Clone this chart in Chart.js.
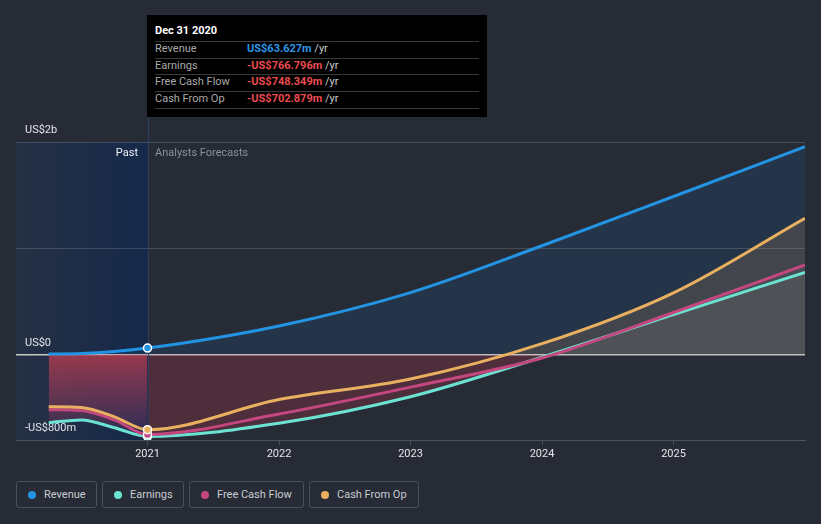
<!DOCTYPE html>
<html><head><meta charset="utf-8">
<script src="https://cdn.jsdelivr.net/npm/chart.js@4.4.0/dist/chart.umd.min.js"></script>
<style>
html,body{margin:0;padding:0;background:#262b36;width:821px;height:524px;overflow:hidden;font-family:Roboto,"Noto Sans",sans-serif;}
#wrap{position:absolute;left:0;top:0;width:821px;height:470px;}
#tip{position:absolute;left:147px;top:15px;width:340px;height:102px;background:#000;}
#tip .t{position:absolute;left:8px;top:10px;line-height:12px;font-size:11px;font-weight:bold;color:#fff;}
#tip .sep{position:absolute;left:8px;width:324px;height:1px;background:#3a3a3a;}
#tip .row{position:absolute;left:8px;width:324px;line-height:13px;font-size:11px;color:#a9a9a9;}
#tip .row .v{position:absolute;left:92px;top:0;font-weight:bold;white-space:nowrap;}
#tip .row .u{color:#c9c9c9;font-weight:normal;}
.lbl{position:absolute;font-size:11px;line-height:12px;white-space:nowrap;}
.leg{position:absolute;top:481px;height:27px;box-sizing:border-box;border:1px solid #4a505c;border-radius:3px;font-size:11px;color:#c9ccd1;line-height:25px;}
.leg i{position:absolute;left:11px;top:8.5px;width:8px;height:8px;border-radius:50%;}
.leg span{position:absolute;left:27px;top:0;white-space:nowrap;}
</style>
</head><body>
<div id="wrap"><canvas id="c" width="821" height="470"></canvas></div>
<div class="lbl" style="right:683px;top:147px;color:#eef0f3;">Past</div>
<div class="lbl" style="left:155px;top:147px;color:#8b9099;">Analysts Forecasts</div>
<div id="tip"></div>
<div id="legend"></div>
<script>
// ---- data ----
const periods = ['2020-03-31','2020-06-30','2020-09-30','2020-12-31','2021-12-31','2022-12-31','2023-12-31','2024-12-31','2025-12-31'];
const pastCount = 4; // first four periods are reported, the rest are analyst forecasts
const revenue  = [8, 13, 32, 63.627, 272, 585, 1025, 1488, 1956];
const earnings = [-637, -612, -685, -766.796, -642, -393, -22, 378, 775];
const fcf      = [-515, -524, -611, -748.349, -556, -303, -30, 398, 845];
const cfo      = [-487, -494, -582, -702.879, -420, -227, 105, 583, 1284];
const seriesNames = ['Revenue','Earnings','Free Cash Flow','Cash From Op'];
const seriesColors = ['#2394e3','#6ce3d2','#c4477f','#e9b060'];
const xTickValues = [2021, 2022, 2023, 2024, 2025];
const xTickLabels = ['2021','2022','2023','2024','2025'];
const yTickValues = [-800, 0, 1000, 2000];
const yTickLabels = ['-US$800m','US$0','','US$2b'];
const tooltipTitle = 'Dec 31 2020';
const tooltipValues = ['US$63.627m','-US$766.796m','-US$748.349m','-US$702.879m'];

function toYear(s){
  const d = new Date(s + 'T00:00:00Z');
  const y = d.getUTCFullYear();
  const start = Date.UTC(y,0,1), end = Date.UTC(y+1,0,1);
  return y + (d.getTime() - start + 86400000) / (end - start);
}
const xs = periods.map(toYear);
const pts = arr => arr.map((v,i)=>({x:xs[i], y:v}));
const ptsRange = (arr,a,b) => arr.slice(a,b).map((v,i)=>({x:xs[a+i], y:v}));

// ---- tooltip & legend (html text) ----
const tip = document.getElementById('tip');
let h = '<div class="t">'+tooltipTitle+'</div>';
const seps = [26,43,59,76,93];
seps.forEach(t=>{ h += '<div class="sep" style="top:'+t+'px"></div>'; });
seriesNames.forEach((n,i)=>{
  const col = i===0 ? '#2d96e6' : '#ea4b50';
  h += '<div class="row" style="top:'+(seps[i]+1)+'px">'+n+'<span class="v" style="color:'+col+'">'+tooltipValues[i]+' <span class="u">/yr</span></span></div>';
});
tip.innerHTML = h;
const legend = document.getElementById('legend');
const legLeft = [16,102,189,309], legW = [81,82,115,110];
legend.innerHTML = seriesNames.map((n,i)=>'<div class="leg" style="left:'+legLeft[i]+'px;width:'+legW[i]+'px"><i style="background:'+seriesColors[i]+'"></i><span>'+n+'</span></div>').join('');

// ---- chart ----
Chart.defaults.font.family = 'Roboto, "Noto Sans", sans-serif';
const pastX = xs[pastCount-1];

const bgPlugin = {
  id:'pastbg',
  beforeDraw(chart){
    const {ctx, chartArea:a, scales:{x}} = chart;
    const px = x.getPixelForValue(pastX);
    const g = ctx.createLinearGradient(a.left,0,px,0);
    g.addColorStop(0,'#243044');
    g.addColorStop(1,'#16294a');
    ctx.save();
    ctx.fillStyle = g;
    ctx.fillRect(a.left, a.top, px - a.left, a.bottom - a.top);
    ctx.restore();
  },
  beforeDatasetsDraw(chart){
    const {ctx, chartArea:a, scales:{x}} = chart;
    const px = Math.round(x.getPixelForValue(pastX)) + 0.5;
    ctx.save();
    ctx.strokeStyle = '#2c3f62';
    ctx.lineWidth = 1;
    ctx.beginPath();
    ctx.moveTo(px, 15);
    ctx.lineTo(px, a.bottom);
    ctx.stroke();
    ctx.restore();
  }
};

function pastGradient(c){
  const chart = c.chart;
  const {ctx, chartArea, scales} = chart;
  if (!chartArea || !scales.y) return 'rgba(180,60,80,0.5)';
  const y0 = scales.y.getPixelForValue(0);
  const g = ctx.createLinearGradient(0, y0, 0, chartArea.bottom);
  g.addColorStop(0,'rgba(196,62,78,0.74)');
  g.addColorStop(0.6,'rgba(165,60,96,0.42)');
  g.addColorStop(1,'rgba(140,60,120,0.15)');
  return g;
}

const pointR = c => c.dataIndex === pastCount-1 ? 4 : 0;
function lineDs(i, arr, order, fill){
  return {
    label: seriesNames[i], data: pts(arr), borderColor: seriesColors[i], borderWidth: 3,
    cubicInterpolationMode:'monotone', fill: fill, order: order,
    pointRadius: pointR, pointBackgroundColor: seriesColors[i], pointBorderColor:'#ffffff', pointBorderWidth:1.5,
    pointHoverRadius: pointR
  };
}

new Chart(document.getElementById('c'), {
  type:'line',
  data:{ datasets:[
    lineDs(3, cfo, 1, {target:'origin', above:'rgba(233,176,96,0.15)', below:'rgba(0,0,0,0)'}),
    lineDs(2, fcf, 2, {target:'origin', above:'rgba(255,255,255,0.035)', below:'rgba(0,0,0,0)'}),
    lineDs(1, earnings, 3, {target:'origin', above:'rgba(255,255,255,0.035)', below:'rgba(0,0,0,0)'}),
    lineDs(0, revenue, 4, {target:'origin', above:'rgba(33,150,243,0.1)', below:'rgba(0,0,0,0)'}),
    { label:'past fill', data: ptsRange(earnings,0,pastCount), borderWidth:0, borderColor:'rgba(0,0,0,0)',
      cubicInterpolationMode:'monotone', pointRadius:0, order:5, fill:'origin', backgroundColor: pastGradient },
    { label:'forecast fill', data: ptsRange(earnings,pastCount-1,earnings.length), borderWidth:0, borderColor:'rgba(0,0,0,0)',
      cubicInterpolationMode:'monotone', pointRadius:0, order:6,
      fill:{target:'origin', above:'rgba(0,0,0,0)', below:'rgba(226,60,80,0.22)'} }
  ]},
  options:{
    responsive:false, animation:false, events:[],
    layout:{padding:{left:16,right:16,top:142,bottom:0}},
    plugins:{ legend:{display:false}, tooltip:{enabled:false}, filler:{drawTime:'beforeDatasetsDraw'} },
    scales:{
      x:{ type:'linear', min:2020, max:2026,
        afterBuildTicks: s => { s.ticks = xTickValues.map(v=>({value:v})); },
        afterFit: s => { s.height = 30; },
        ticks:{ color:'#e3e5e8', font:{size:11}, padding:3, autoSkip:false, maxRotation:0,
          callback: v => xTickLabels[xTickValues.indexOf(v)] },
        grid:{ drawOnChartArea:false, drawTicks:true, tickLength:5, color:'#4c515c' },
        border:{ display:true, color:'#4c515c', width:1 }
      },
      y:{ type:'linear', min:-800, max:2000,
        afterBuildTicks: s => { s.ticks = yTickValues.map(v=>({value:v})); },
        afterFit: s => { s.width = 0; },
        ticks:{ mirror:true, padding:9, labelOffset:-12, color:'#e3e5e8', font:{size:11},
          callback: v => yTickLabels[yTickValues.indexOf(v)] },
        grid:{ drawTicks:false, color: c => c.tick && c.tick.value === 0 ? '#c6c6c6' : 'rgba(255,255,255,0.16)',
          lineWidth: c => c.tick && c.tick.value === 0 ? 1.5 : 1 },
        border:{ display:false }
      }
    }
  },
  plugins:[bgPlugin]
});
</script>
</body></html>
